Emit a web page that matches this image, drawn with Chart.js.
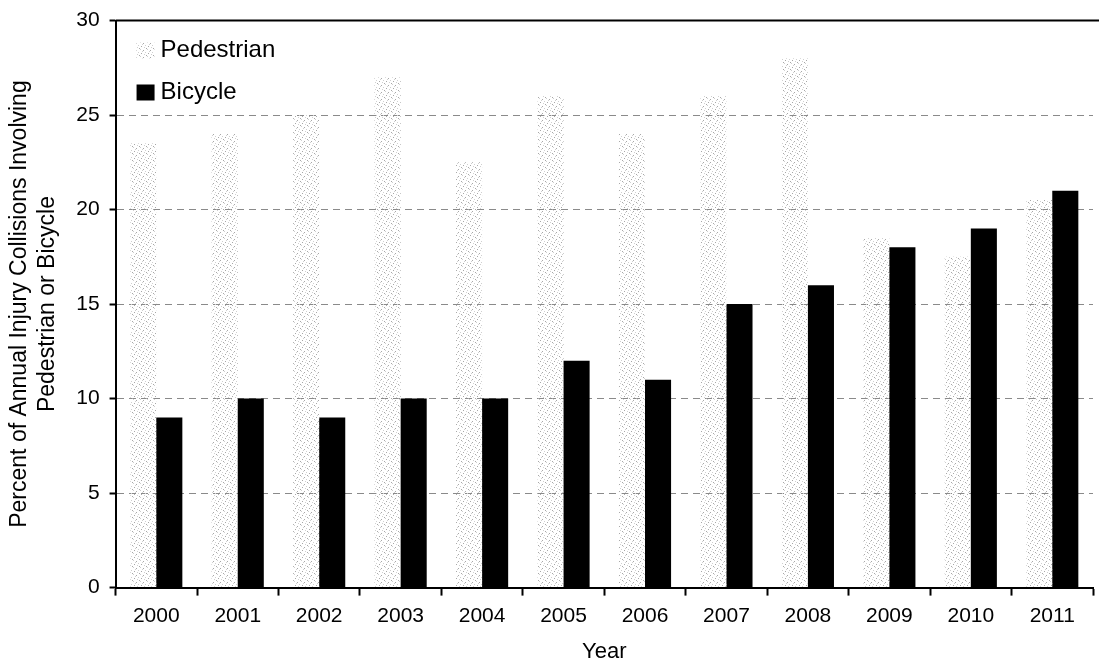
<!DOCTYPE html>
<html>
<head>
<meta charset="utf-8">
<script src="https://cdn.jsdelivr.net/npm/chart.js@4/dist/chart.umd.min.js"></script>
<style>
  body { margin: 0; background: #fff; }
  #wrap { position: relative; width: 1099px; height: 670px; }
</style>
</head>
<body>
<div id="wrap"><canvas id="chart"></canvas></div>
<script>
var years = ['2000', '2001', '2002', '2003', '2004', '2005', '2006', '2007', '2008', '2009', '2010', '2011'];
var pedestrian = [23.5, 24, 25, 27, 22.5, 26, 24, 26, 28, 18.5, 17.5, 20.5];
var bicycle = [9, 10, 9, 10, 10, 12, 11, 15, 16, 18, 19, 21];
var seriesNames = ['Pedestrian', 'Bicycle'];
var yTicks = [0, 5, 10, 15, 20, 25, 30];

var fontFamily = '"Liberation Sans", Arial, sans-serif';

// speckled fill like the scanned pedestrian bars
function makeSpeckle() {
  var c = document.createElement('canvas');
  c.width = 7; c.height = 7;
  var g = c.getContext('2d');
  var dots = [[0, 0], [3, 1], [5, 3], [1, 4], [4, 5], [6, 6], [2, 2]];
  dots.forEach(function (d, i) {
    g.fillStyle = i % 2 ? '#a8a8a8' : '#d0d0d0';
    g.fillRect(d[0], d[1], 1, 1);
  });
  return g.createPattern(c, 'repeat');
}

var ctx = document.getElementById('chart').getContext('2d');
var speckle = makeSpeckle();

// legend drawn inside the plot, top left
var insideLegend = {
  id: 'insideLegend',
  afterDatasetsDraw: function (chart) {
    var c = chart.ctx;
    var a = chart.chartArea;
    c.save();
    c.font = '24px ' + fontFamily;
    c.textBaseline = 'middle';
    chart.data.datasets.forEach(function (ds, i) {
      var y = a.top + 30 + i * 42;
      c.fillStyle = ds.backgroundColor;
      c.fillRect(a.left + 21, y - 8, 18, 16);
      c.fillStyle = '#000';
      c.fillText(ds.label, a.left + 45, y);
    });
    c.restore();
  }
};

// solid top frame line
var topFrame = {
  id: 'topFrame',
  afterDraw: function (chart) {
    var c = chart.ctx;
    var a = chart.chartArea;
    c.save();
    c.strokeStyle = '#000';
    c.lineWidth = 2;
    c.beginPath();
    c.moveTo(a.left, a.top);
    c.lineTo(chart.width, a.top);
    c.stroke();
    c.restore();
  }
};

new Chart(ctx, {
  type: 'bar',
  data: {
    labels: years,
    datasets: [
      {
        label: seriesNames[0],
        data: pedestrian,
        backgroundColor: speckle,
        borderWidth: 0
      },
      {
        label: seriesNames[1],
        data: bicycle,
        backgroundColor: '#000',
        borderWidth: 0
      }
    ]
  },
  options: {
    responsive: true,
    maintainAspectRatio: false,
    animation: false,
    categoryPercentage: 0.64,
    barPercentage: 1,
    layout: { padding: { top: 11, right: 6, bottom: 6, left: 6 } },
    plugins: {
      legend: { display: false },
      tooltip: { enabled: false }
    },
    scales: {
      x: {
        grid: {
          drawOnChartArea: false,
          drawTicks: true,
          tickLength: 8,
          tickColor: '#000',
          tickWidth: 2
        },
        border: { color: '#000', width: 2 },
        ticks: {
          color: '#000',
          font: { family: fontFamily, size: 21 },
          padding: 8
        },
        title: {
          display: true,
          text: 'Year',
          color: '#000',
          font: { family: fontFamily, size: 22, lineHeight: 1.1 },
          padding: { top: 3, bottom: 0 }
        }
      },
      y: {
        min: 0,
        max: 30,
        afterBuildTicks: function (axis) {
          axis.ticks = yTicks.map(function (v) { return { value: v }; });
        },
        grid: {
          color: function (c) {
            var v = c.tick ? c.tick.value : 0;
            return (v === 0 || v === 30) ? 'rgba(0,0,0,0)' : '#8a8a8a';
          },
          lineWidth: 1,
          drawTicks: true,
          tickLength: 6,
          tickColor: '#000',
          tickWidth: 2
        },
        border: { color: '#000', width: 2, dash: [7, 5] },
        ticks: {
          color: '#000',
          font: { family: fontFamily, size: 21, lineHeight: 1 },
          padding: 10
        },
        title: {
          display: true,
          text: ['Percent of Annual Injury Collisions Involving', 'Pedestrian or Bicycle'],
          color: '#000',
          font: { family: fontFamily, size: 23, lineHeight: 1.2 },
          padding: { top: 0, bottom: 5 }
        }
      }
    }
  },
  plugins: [insideLegend, topFrame]
});
</script>
</body>
</html>
